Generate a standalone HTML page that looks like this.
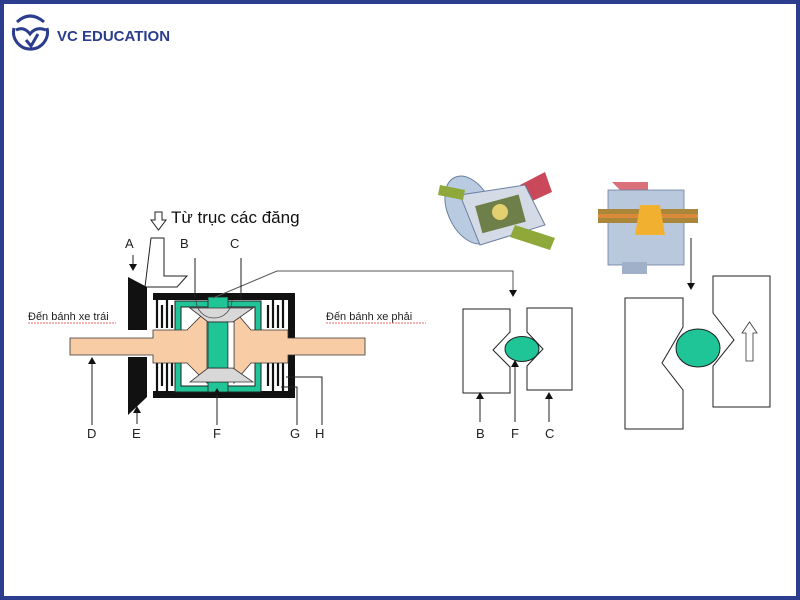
<!DOCTYPE html>
<html><head><meta charset="utf-8"><style>
html,body{margin:0;padding:0;background:#fff}
svg{display:block}
text{font-family:"Liberation Sans",sans-serif}
</style></head><body>
<svg width="800" height="600" viewBox="0 0 800 600" xmlns="http://www.w3.org/2000/svg">
<rect x="2" y="2" width="796" height="596" fill="#fff" stroke="#2b3d8c" stroke-width="4"/>
<!-- logo -->
<g fill="none" stroke="#2b3d8c" stroke-width="3">
<path d="M14 28 A17 17 0 1 0 47 28"/>
<path d="M17 22 Q30 10 44 22"/>
<path d="M16 30 Q24 26 30 34 Q36 26 46 30"/>
<path d="M26 40 L31 46 L38 34"/>
</g>
<text x="57" y="41" font-size="15" font-weight="bold" fill="#2b3d8c">VC EDUCATION</text>

<!-- left diagram -->
<text x="171" y="223" font-size="17" fill="#111">Từ trục các đăng</text>
<path d="M155 212 h7 v8 h4 l-7.5 10 l-7.5 -10 h4z" fill="#fff" stroke="#222" stroke-width="1"/>
<path d="M151 238 h13 v38 h23 l-10 11 h-32z" fill="#fff" stroke="#222" stroke-width="1"/>
<!-- ring gear -->
<path d="M128 277 L147 287 L147 330 L128 330 Z" fill="#111"/>
<path d="M128 357 L147 357 L147 397 L128 415 Z" fill="#111"/>
<!-- housing -->
<path d="M145 293 H295 V338 H288 V300 H153 V293Z" fill="#111"/>
<path d="M145 398 H295 V355 H288 V391 H153 V398Z" fill="#111"/>
<!-- clutch plates -->
<g stroke="#111" stroke-width="2.2">
<path d="M157 300 v28 M162 305 v23 M167 300 v28 M172 305 v23 M157 360 v31 M162 360 v26 M167 360 v31 M172 360 v26"/>
<path d="M268 305 v23 M273 300 v28 M278 305 v23 M283 300 v28 M268 360 v26 M273 360 v31 M278 360 v26 M283 360 v31"/>
</g>
<!-- green case -->
<path d="M178 330 V304 H258 V330 M178 358 V389 H258 V358" fill="none" stroke="#222" stroke-width="7"/>
<path d="M178 330 V304 H258 V330 M178 358 V389 H258 V358" fill="none" stroke="#1fc596" stroke-width="5"/>
<rect x="208" y="297" width="20" height="12" fill="#1fc596" stroke="#222" stroke-width="0.8"/>
<rect x="208" y="382" width="20" height="10" fill="#1fc596" stroke="#222" stroke-width="0.8"/>
<!-- shafts -->
<path d="M70 338 H153 V330 H187 L207 310 V383 L187 363 H153 V355 H70 Z" fill="#f8cda6" stroke="#333" stroke-width="0.8"/>
<path d="M365 355 H288 V363 H251 L234 383 V310 L251 330 H288 V338 H365 Z" fill="#f8cda6" stroke="#333" stroke-width="0.8"/>
<!-- spider gears -->
<path d="M190 308 H253 L233 322 H208 Z" fill="#d8d8d8" stroke="#333" stroke-width="0.8"/>
<path d="M190 382 H253 L233 368 H208 Z" fill="#d8d8d8" stroke="#333" stroke-width="0.8"/>
<rect x="208" y="322" width="20" height="46" fill="#1fc596" stroke="#222" stroke-width="0.8"/>
<rect x="228" y="322" width="6" height="46" fill="#fff" stroke="#222" stroke-width="0.6"/>
<path d="M196 300 A18 18 0 0 0 232 300" fill="none" stroke="#444" stroke-width="0.8"/>
<!-- leader to right diagram -->
<path d="M213 298 L277 271 H513 V292" fill="none" stroke="#555" stroke-width="1"/>
<path d="M509 290 L517 290 L513 297Z" fill="#111"/>
<!-- labels -->
<g font-size="13" fill="#222" stroke="none">
<text x="125" y="248">A</text><text x="180" y="248">B</text><text x="230" y="248">C</text>
<text x="87" y="438">D</text><text x="132" y="438">E</text><text x="213" y="438">F</text>
<text x="290" y="438">G</text><text x="315" y="438">H</text>
</g>
<g stroke="#222" stroke-width="1" fill="none">
<path d="M133 255 v10 M195 258 v40 M241 258 v42 M92 425 v-65 M137 424 v-14 M217 425 v-33 M297 425 v-38 H281 M322 425 v-48 H286"/>
</g>
<g fill="#111">
<path d="M129 264 h8 l-4 7z M88 364 h8 l-4 -7z M133 413 h8 l-4 -7z M213 395 h8 l-4 -7z"/>
</g>
<text x="28" y="320" font-size="11" fill="#222">Đến bánh xe trái</text>
<path d="M28 323 h88" stroke="#e33" stroke-width="0.8" stroke-dasharray="2 1"/>
<text x="326" y="320" font-size="11" fill="#222">Đến bánh xe phải</text>
<path d="M326 323 h100" stroke="#e33" stroke-width="0.8" stroke-dasharray="2 1"/>

<!-- small right diagram -->
<g fill="#fff" stroke="#222" stroke-width="1">
<path d="M463 309 H510 V332 L493 350 L510 367 V393 H463 Z"/>
<path d="M527 308 H572 V390 H527 V366 L543 349 L527 332 Z"/>
</g>
<ellipse cx="522" cy="349" rx="17" ry="12.5" fill="#1fc596" stroke="#222" stroke-width="1"/>
<g stroke="#222" stroke-width="1"><path d="M480 422 v-25 M515 422 v-57 M549 422 v-25"/></g>
<g fill="#111"><path d="M476 399 h8 l-4 -7z M511 367 h8 l-4 -7z M545 399 h8 l-4 -7z"/></g>
<g font-size="13" fill="#222"><text x="476" y="438">B</text><text x="511" y="438">F</text><text x="545" y="438">C</text></g>

<!-- big right diagram -->
<g fill="#fff" stroke="#222" stroke-width="1">
<path d="M625 298 H683 V327 L662 363 L683 390 V429 H625 Z"/>
<path d="M713 276 H770 V407 H713 V366 L734 340 L713 313 Z"/>
</g>
<ellipse cx="698" cy="348" rx="22" ry="19" fill="#1fc596" stroke="#222" stroke-width="1"/>
<path d="M746 361 V333 H742 L749.5 322 L757 333 H753 V361 Z" fill="#fff" stroke="#333" stroke-width="0.8"/>
<path d="M691 238 V283" stroke="#222" stroke-width="1"/>
<path d="M687 283 h8 l-4 7z" fill="#111"/>

<!-- 3D illustration 1 -->
<g>
<path d="M520 185 L545 172 L552 192 L530 202 Z" fill="#c9485a"/>
<ellipse cx="470" cy="210" rx="22" ry="36" transform="rotate(-25 470 210)" fill="#b9cbe0" stroke="#6a7fa0"/>
<path d="M460 195 L525 185 L545 225 L480 245 Z" fill="#d4dbe6" stroke="#6a7fa0"/>
<rect x="478" y="200" width="45" height="28" fill="#6f7f4a" transform="rotate(-15 500 214)"/>
<circle cx="500" cy="212" r="8" fill="#e3d070"/>
<path d="M515 225 L555 238 L550 250 L510 237 Z" fill="#8ea83a"/>
<path d="M440 185 L465 190 L463 200 L438 195 Z" fill="#8ea83a"/>
</g>
<!-- 3D illustration 2 -->
<g>
<path d="M612 182 H648 V196 H630 V206 H620 V190 Z" fill="#d9707a"/>
<rect x="608" y="190" width="76" height="75" fill="#b9c8dc" stroke="#6a7fa0" stroke-width="0.8"/>
<rect x="598" y="209" width="100" height="14" fill="#a9863a"/>
<rect x="598" y="214" width="100" height="4" fill="#d88a3a"/>
<path d="M640 205 H660 L665 235 H635 Z" fill="#f2b030"/>
<rect x="622" y="262" width="25" height="12" fill="#9fb0c8"/>
</g>
</svg>
</body></html>
